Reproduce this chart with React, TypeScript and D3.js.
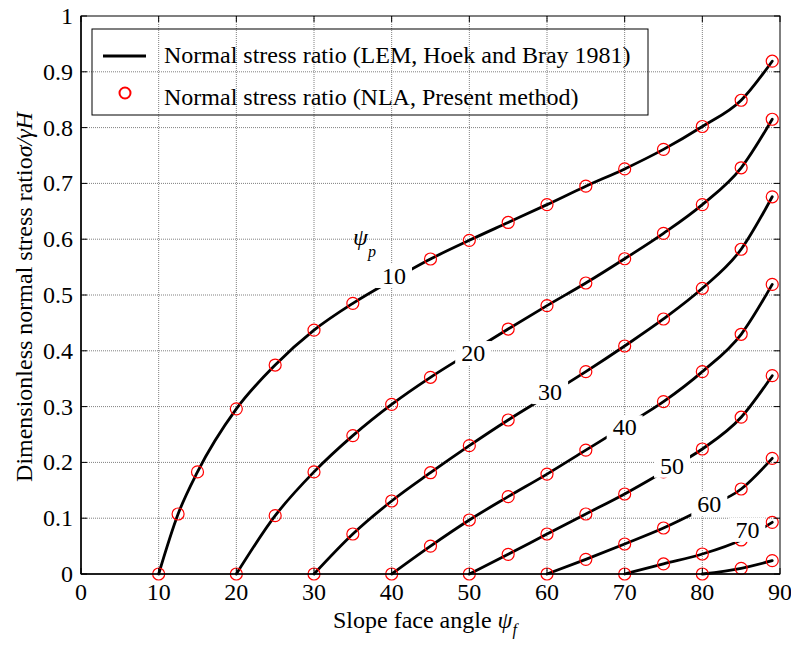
import React from "react";
import * as d3 from "d3";

const W = 791;
const H = 645;

// Axis ticks
const xTicks = [0, 10, 20, 30, 40, 50, 60, 70, 80, 90];
const yTicks = [0, 0.1, 0.2, 0.3, 0.4, 0.5, 0.6, 0.7, 0.8, 0.9, 1];
const yTickLabels = ["0", "0.1", "0.2", "0.3", "0.4", "0.5", "0.6", "0.7", "0.8", "0.9", "1"];

// Plane angles psi_p for each curve
const psiP = [10, 20, 30, 40, 50, 60, 70, 80];

// Slope face angles (x) and normal stress ratios (y) per curve
const x10 = [10, 12.5, 15, 20, 25, 30, 35, 40, 45, 50, 55, 60, 65, 70, 75, 80, 85, 89];
const y10 = [0, 0.1075, 0.183, 0.296, 0.3745, 0.437, 0.485, 0.526, 0.5645, 0.598, 0.63, 0.662, 0.695, 0.726, 0.761, 0.802, 0.849, 0.919];
const x20 = [20, 25, 30, 35, 40, 45, 50, 55, 60, 65, 70, 75, 80, 85, 89];
const y20 = [0, 0.1045, 0.183, 0.248, 0.304, 0.3525, 0.396, 0.439, 0.481, 0.5215, 0.565, 0.6105, 0.662, 0.728, 0.815];
const x30 = [30, 35, 40, 45, 50, 55, 60, 65, 70, 75, 80, 85, 89];
const y30 = [0, 0.0717, 0.1308, 0.1815, 0.23, 0.276, 0.319, 0.3626, 0.4086, 0.457, 0.512, 0.582, 0.676];
const x40 = [40, 45, 50, 55, 60, 65, 70, 75, 80, 85, 89];
const y40 = [0, 0.05, 0.0968, 0.1386, 0.179, 0.222, 0.265, 0.3088, 0.3626, 0.4296, 0.519];
const x50 = [50, 55, 60, 65, 70, 75, 80, 85, 89];
const y50 = [0, 0.0352, 0.0717, 0.1075, 0.1434, 0.183, 0.224, 0.281, 0.3554];
const x60 = [60, 65, 70, 75, 80, 85, 89];
const y60 = [0, 0.0263, 0.0538, 0.0824, 0.116, 0.1523, 0.2073];
const x70 = [70, 75, 80, 85, 89];
const y70 = [0, 0.018, 0.0358, 0.061, 0.0926];
const x80 = [80, 85, 89];
const y80 = [0, 0.0102, 0.0239];

const seriesX = [x10, x20, x30, x40, x50, x60, x70, x80];
const seriesY = [y10, y20, y30, y40, y50, y60, y70, y80];

// Contour labels (data-space anchors)
const contourLabels = ["10", "20", "30", "40", "50", "60", "70"];
const labelAtX = [40.3, 50.5, 60.4, 70.0, 76.1, 80.9, 85.8];
const labelAtY = [0.534, 0.396, 0.326, 0.263, 0.194, 0.125, 0.079];

const legendLabels = [
  "Normal stress ratio (LEM, Hoek and Bray 1981)",
  "Normal stress ratio (NLA, Present method)",
];

const FONT = "'Times New Roman', 'Liberation Serif', serif";

export default function App() {
  const left = 81;
  const right = 780;
  const top = 16;
  const bottom = 574;

  const x = d3.scaleLinear().domain([0, 90]).range([left, right]);
  const y = d3.scaleLinear().domain([0, 1]).range([bottom, top]);

  const line = d3
    .line<[number, number]>()
    .x((d) => x(d[0]))
    .y((d) => y(d[1]))
    .curve(d3.curveMonotoneX);

  const series = psiP.map((p, i) =>
    seriesX[i].map((xv, j) => [xv, seriesY[i][j]] as [number, number])
  );

  const tickLen = 6;
  const fs = 24;

  return (
    <svg
      width={W}
      height={H}
      style={{ position: "absolute", left: 0, top: 0, background: "#fff" }}
      fontFamily={FONT}
    >
      <rect x={0} y={0} width={W} height={H} fill="#fff" />
      {/* grid */}
      <g stroke="#808080" strokeWidth={1} strokeDasharray="1,1">
        {xTicks.slice(1, -1).map((t) => (
          <line key={"gx" + t} x1={x(t)} x2={x(t)} y1={top} y2={bottom} />
        ))}
        {yTicks.slice(1, -1).map((t) => (
          <line key={"gy" + t} x1={left} x2={right} y1={y(t)} y2={y(t)} />
        ))}
      </g>

      {/* curves */}
      <g fill="none" stroke="#000" strokeWidth={2.8} strokeLinejoin="round" strokeLinecap="round">
        {series.map((s, i) => (
          <path key={"c" + i} d={line(s) || ""} />
        ))}
      </g>

      {/* markers */}
      <g fill="none" stroke="#ff0000" strokeWidth={1.2}>
        {series.map((s, i) =>
          s.map((d, j) => <circle key={"m" + i + "-" + j} cx={x(d[0])} cy={y(d[1])} r={6} />)
        )}
      </g>

      {/* contour labels */}
      <g>
        {contourLabels.map((lab, i) => {
          const cx = x(labelAtX[i]);
          const cy = y(labelAtY[i]);
          const w = lab.length * fs * 0.5 + 12;
          const h = 24;
          return (
            <g key={"l" + i}>
              <rect x={cx - w / 2} y={cy - h / 2} width={w} height={h} fill="#fff" />
              <text x={cx} y={cy + fs * 0.34} textAnchor="middle" fontSize={fs} fill="#000">
                {lab}
              </text>
            </g>
          );
        })}
        <text x={x(labelAtX[0]) - 41} y={y(labelAtY[0]) - 31} fontSize={fs} fontStyle="italic" fill="#000">
          ψ
        </text>
        <text x={x(labelAtX[0]) - 26} y={y(labelAtY[0]) - 19} fontSize={16} fontStyle="italic" fill="#000">
          p
        </text>
      </g>

      {/* axes frame and ticks */}
      <g stroke="#000" strokeWidth={1}>
        <rect x={left} y={top} width={right - left} height={bottom - top} fill="none" />
        {xTicks.map((t) => (
          <g key={"tx" + t}>
            <line x1={x(t)} x2={x(t)} y1={bottom} y2={bottom - tickLen} />
            <line x1={x(t)} x2={x(t)} y1={top} y2={top + tickLen} />
          </g>
        ))}
        {yTicks.map((t) => (
          <g key={"ty" + t}>
            <line x1={left} x2={left + tickLen} y1={y(t)} y2={y(t)} />
            <line x1={right} x2={right - tickLen} y1={y(t)} y2={y(t)} />
          </g>
        ))}
      </g>
      <line x1={left} x2={right} y1={bottom} y2={bottom} stroke="#000" strokeWidth={1.5} />
      <line x1={left} x2={left} y1={top} y2={bottom} stroke="#000" strokeWidth={1.5} />

      {/* tick labels */}
      <g fontSize={fs} fill="#000">
        {xTicks.map((t) => (
          <text key={"lx" + t} x={x(t)} y={bottom + 26} textAnchor="middle">
            {t}
          </text>
        ))}
        {yTicks.map((t, i) => (
          <text key={"ly" + t} x={left - 8} y={y(t) + 8} textAnchor="end">
            {yTickLabels[i]}
          </text>
        ))}
      </g>

      {/* axis titles */}
      <text x={333} y={628} fontSize={fs} fill="#000">
        Slope face angle{" "}
        <tspan fontStyle="italic">ψ</tspan>
        <tspan fontStyle="italic" fontSize={16} dy={7}>f</tspan>
      </text>
      <text
        transform={`translate(32, 297) rotate(-90)`}
        textAnchor="middle"
        fontSize={fs}
        fill="#000"
      >
        Dimensionless normal stress ratio
        <tspan fontStyle="italic">σ/γH</tspan>
      </text>

      {/* legend */}
      <g>
        <rect x={92} y={29} width={556} height={86} fill="none" stroke="#000" strokeWidth={1} />
        <line x1={103} x2={146} y1={56} y2={56} stroke="#000" strokeWidth={2.8} />
        <circle cx={125} cy={93} r={5.5} fill="none" stroke="#ff0000" strokeWidth={2} />
        <text x={164} y={63} fontSize={fs} fill="#000">
          {legendLabels[0]}
        </text>
        <text x={164} y={105} fontSize={fs} fill="#000">
          {legendLabels[1]}
        </text>
      </g>
    </svg>
  );
}
